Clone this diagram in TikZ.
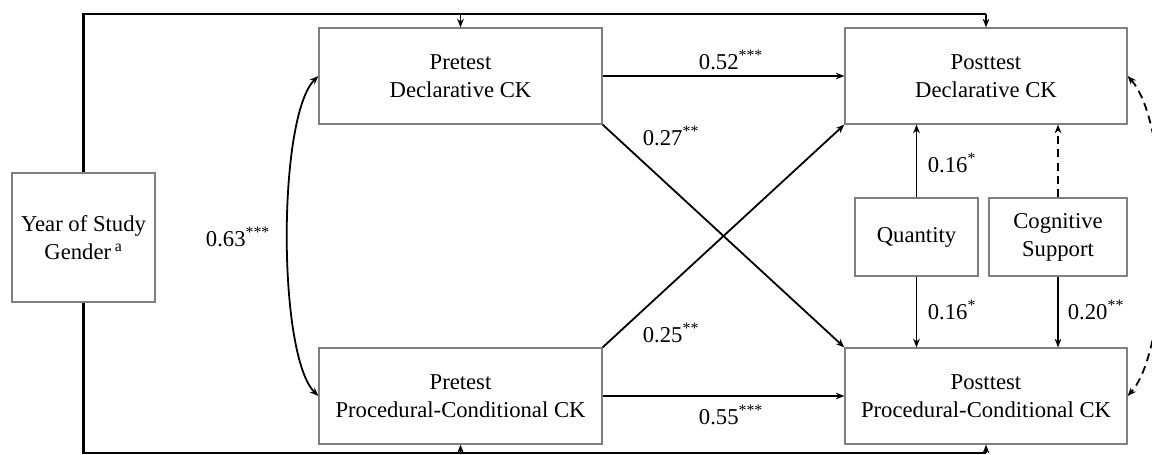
\documentclass[tikz,border=0pt]{standalone}
\usepackage{fontspec}
\setmainfont{Liberation Serif}
\usetikzlibrary{arrows.meta}

\begin{document}
\begin{tikzpicture}[x=0.75pt,y=0.75pt,yscale=-1,xscale=1,
  box/.style={draw={rgb,255:red,128;green,128;blue,128}, line width=0.9pt, align=center, inner sep=0pt, font=\fontsize{17}{21}\selectfont},
  link/.style={line width=1.35pt, -{Stealth[length=6.5pt,width=5pt]}},
  both/.style={line width=1.35pt, {Stealth[length=6.5pt,width=5pt]}-{Stealth[length=6.5pt,width=5pt]}},
  bus/.style={line width=1.8pt},
  coef/.style={font=\fontsize{17}{21}\selectfont, inner sep=0.75pt}]
\useasboundingbox (0,0) rectangle (1152,454);

%Shape: Rectangle
\node[box, minimum width=107.25pt, minimum height=96.75pt] (yr) at (83.5,237.5) {Year of Study\\Gender\,\textsuperscript{a}};
%Shape: Rectangle
\node[box, minimum width=212.25pt, minimum height=72pt] (pd) at (460.5,76) {Pretest\\Declarative CK};
%Shape: Rectangle
\node[box, minimum width=212.25pt, minimum height=72pt] (pp) at (460.5,396) {Pretest\\Procedural-Conditional CK};
%Shape: Rectangle
\node[box, minimum width=211.5pt, minimum height=72pt] (qd) at (986,76) {Posttest\\Declarative CK};
%Shape: Rectangle
\node[box, minimum width=211.5pt, minimum height=72pt] (qp) at (986,396) {Posttest\\Procedural-Conditional CK};
%Shape: Rectangle
\node[box, minimum width=92.25pt, minimum height=58.5pt] (qt) at (916.5,237) {Quantity};
%Shape: Rectangle
\node[box, minimum width=103.5pt, minimum height=58.5pt] (cs) at (1058,237) {Cognitive\\Support};

\coordinate (topbus) at (0,14);
\coordinate (botbus) at (0,453);

%Straight Lines
\draw[bus] (yr.north) -- (yr.north |- topbus) -- (qd.north |- topbus);
\draw[bus] (yr.south) -- (yr.south |- botbus) -- (qp.south |- botbus);
\draw[link] (pd.north |- topbus) -- (pd.north);
\draw[link] (qd.north |- topbus) -- (qd.north);
\draw[link] (pp.south |- botbus) -- (pp.south);
\draw[link] (qp.south |- botbus) -- (qp.south);

%Straight Lines
\draw[link] (pd.east) -- (qd.west);
\draw[link] (pp.east) -- (qp.west);
\draw[link] (pd.south east) -- (qp.north west);
\draw[link] (pp.north east) -- (qd.south west);
\draw[link] (qt.north) -- (qt.north |- qd.south);
\draw[link] (qt.south) -- (qt.south |- qp.north);
\draw[link, dash pattern=on 6pt off 4pt] (cs.north) -- (cs.north |- qd.south);
\draw[link] (cs.south) -- (cs.south |- qp.north);

%Curve Lines
\draw[both] (pd.west) .. controls +(-41,40) and +(-41,-40) .. (pp.west);
\draw[both, dash pattern=on 6pt off 4pt] (qd.east) .. controls +(45,50) and +(45,-50) .. (qp.east);

% Text Node
\node[coef] (c52) at (731,60) {0.52\textsuperscript{***}};
% Text Node
\node[coef] (c55) at (731,415) {0.55\textsuperscript{***}};
% Text Node
\node[coef] (c27) at (671,136) {0.27\textsuperscript{**}};
% Text Node
\node[coef] (c25) at (671,333) {0.25\textsuperscript{**}};
% Text Node
\node[coef] (c63) at (238,237) {0.63\textsuperscript{***}};
% Text Node
\node[coef] (c16a) at (952,163) {0.16\textsuperscript{*}};
% Text Node
\node[coef] (c16b) at (952,310) {0.16\textsuperscript{*}};
% Text Node
\node[coef] (c20) at (1096,310) {0.20\textsuperscript{**}};
\end{tikzpicture}
\end{document}
